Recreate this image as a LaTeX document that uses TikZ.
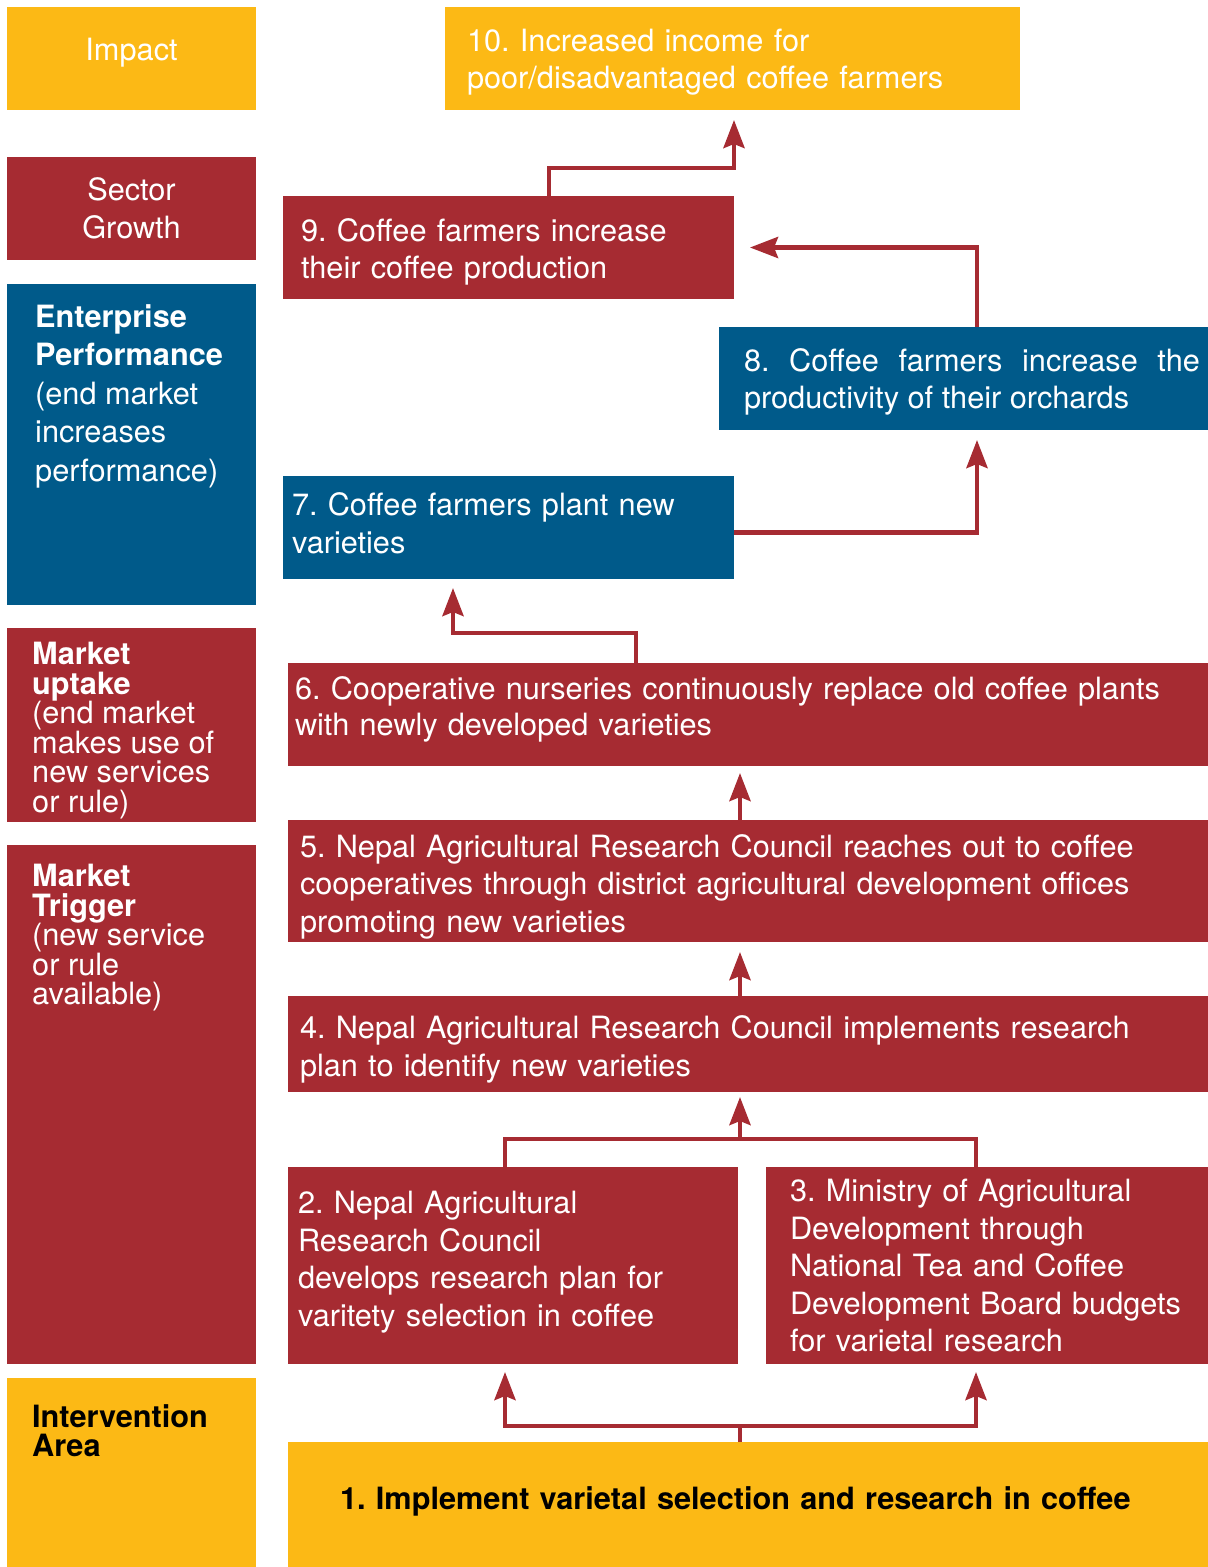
\documentclass[tikz,border=0pt]{standalone}
\usepackage{fontspec}
\setmainfont{TeX Gyre Heros}
\usetikzlibrary{arrows.meta}
\definecolor{impactyellow}{RGB}{252,185,21}
\definecolor{chainred}{RGB}{166,43,50}
\definecolor{chainblue}{RGB}{0,90,138}
\frenchspacing

\begin{document}
\begin{tikzpicture}[x=1pt,y=-1pt]
    \tikzstyle{stage} = [anchor=north west, inner sep=0pt, outer sep=0pt, text=white, font=\fontsize{30.7}{37.5}\selectfont]
    \tikzstyle{level} = [stage, minimum width=249pt]
    \tikzstyle{levellabel} = [anchor=north west, inner sep=0pt, align=left, text=white, font={\fontsize{30.7}{29.5}\selectfont\lineskiplimit=-20pt}]
    \tikzstyle{result} = [stage, align=left]
    \tikzstyle{link} = [line width=4.5pt, draw=chainred, -{Stealth[length=28pt,width=21pt,inset=4pt]}, shorten >=9pt]
    \tikzstyle{joint} = [line width=4.5pt, draw=chainred]

    \useasboundingbox (0,0) rectangle (1208,1567);

    \node[level, fill=impactyellow, minimum height=103pt, align=center, text depth=18pt] (impact) at (7,7) {Impact};
    \node[level, fill=chainred, minimum height=103pt, align=center, font=\fontsize{30.7}{38}\selectfont] (sector) at (7,157) {Sector\\Growth};
    \node[level, fill=chainblue, minimum height=321pt] (enterprise) at (7,284) {};
    \node[level, fill=chainred, minimum height=194pt] (uptake) at (7,628) {};
    \node[level, fill=chainred, minimum height=519pt] (trigger) at (7,845) {};
    \node[level, fill=impactyellow, minimum height=189pt] (intervention) at (7,1378) {};

    \node[levellabel, font={\fontsize{30.7}{38.5}\selectfont}] (enterpriselabel) at ([xshift=28pt,yshift=-20pt]enterprise.north west)
        {\textbf{Enterprise}\\\textbf{Performance}\\(end market\\increases\\performance)};
    \node[levellabel] (uptakelabel) at ([xshift=25pt,yshift=-14pt]uptake.north west)
        {\textbf{Market}\\\textbf{uptake}\\(end market\\makes use of\\new services\\or rule)};
    \node[levellabel] (triggerlabel) at ([xshift=25pt,yshift=-19pt]trigger.north west)
        {\textbf{Market}\\\textbf{Trigger}\\(new service\\or rule\\available)};
    \node[levellabel, text=black] (interventionlabel) at ([xshift=25pt,yshift=-26pt]intervention.north west)
        {\textbf{Intervention}\\\textbf{Area}};

    \node[result, fill=impactyellow, minimum width=575pt, minimum height=103pt, text width=531pt, text height=30pt] (b10) at (445,7)
        {10. Increased income for\\poor/disadvantaged coffee farmers};
    \node[result, fill=chainred, minimum width=451pt, minimum height=103pt, text width=415pt, text height=32pt] (b9) at (283,196)
        {9. Coffee farmers increase\\their coffee production};
    \node[stage, fill=chainblue, minimum width=489pt, minimum height=103pt, text height=30pt] (b8) at (719,327)
        {\hspace*{17pt}\parbox[t]{456pt}{\tolerance=10000\hyphenpenalty=10000 8. Coffee farmers increase the productivity of their orchards}};
    \node[result, fill=chainblue, minimum width=451pt, minimum height=103pt, text width=433pt, text height=14pt] (b7) at (283,476)
        {7. Coffee farmers plant new\\varieties};
    \node[result, fill=chainred, minimum width=920pt, minimum height=103pt, text width=906pt, text height=12pt, font=\fontsize{30.7}{36}\selectfont] (b6) at (288,663)
        {6. Cooperative nurseries continuously replace old coffee plants\\with newly developed varieties};
    \node[result, fill=chainred, minimum width=920pt, minimum height=122pt, text width=896pt, text height=34pt] (b5) at (288,820)
        {5. Nepal Agricultural Research Council reaches out to coffee\\cooperatives through district agricultural development offices\\promoting new varieties};
    \node[result, fill=chainred, minimum width=920pt, minimum height=96pt, text width=896pt, text height=34pt] (b4) at (288,996)
        {4. Nepal Agricultural Research Council implements research\\plan to identify new varieties};
    \node[result, fill=chainred, minimum width=450pt, minimum height=197pt, text width=430pt, text height=16pt] (b2) at (288,1167)
        {2. Nepal Agricultural\\Research Council\\develops research plan for\\varitety selection in coffee};
    \node[result, fill=chainred, minimum width=442pt, minimum height=197pt, text width=394pt] (b3) at (766,1167)
        {3. Ministry of Agricultural\\Development through\\National Tea and Coffee\\Development Board budgets\\for varietal research};
    \node[result, fill=impactyellow, text=black, minimum width=920pt, minimum height=125pt, text width=816pt, text height=16pt, font=\fontsize{30.7}{37.5}\selectfont\bfseries] (b1) at (288,1442)
        {1. Implement varietal selection and research in coffee};

    \coordinate (spine) at ([xshift=452pt]b1.north west);
    \draw[link, shorten >=10pt] ([xshift=266pt]b9.north west) -- ++(0,-28) -| (b9.north east |- b10.south);
    \draw[link, shorten >=16pt] ([xshift=258pt]b8.north west) |- (b9.east);
    \draw[link, shorten >=10pt] ([yshift=-5pt]b7.east) -| ([xshift=258pt]b8.south west);
    \draw[link] ([xshift=348pt]b6.north west) -- ++(0,-30) -| ([xshift=170pt]b7.south west);
    \draw[link, shorten >=7pt] (b5.north -| spine) -- (b6.south -| spine);
    \draw[link, shorten >=10pt] (b4.north -| spine) -- (b5.south -| spine);
    \draw[joint] ([xshift=217pt]b2.north west) -- ++(0,-28) coordinate (join23) -| ([xshift=210pt]b3.north west);
    \draw[link, shorten >=5pt] (join23 -| spine) -- (b4.south -| spine);
    \draw[joint] (spine) -- ++(0,-16) coordinate (join1);
    \draw[link, shorten >=8pt] (join1) -| ([xshift=217pt]b2.south west);
    \draw[link, shorten >=8pt] (join1) -| ([xshift=210pt]b3.south west);
\end{tikzpicture}
\end{document}
